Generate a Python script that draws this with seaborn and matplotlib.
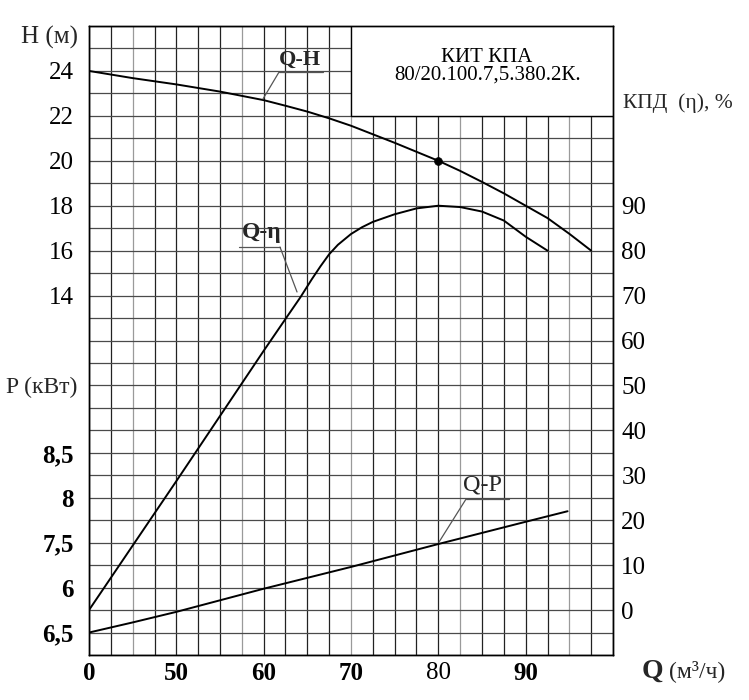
import numpy as np
import pandas as pd
import matplotlib
matplotlib.use("Agg")
import matplotlib.pyplot as plt
import seaborn as sns
from matplotlib.patches import Rectangle

# ---- data ----
q_h = [40, 45, 50, 55, 60, 62.5, 65, 67.5, 70, 72.5, 75, 77.5, 80, 82.5, 85, 87.5, 90, 92.5, 95, 97.5]
h_vals = [24, 23.68, 23.4, 23.08, 22.7, 22.45, 22.19, 21.89, 21.56, 21.18, 20.8, 20.4,
          20.0, 19.55, 19.06, 18.55, 18.0, 17.45, 16.75, 16.0]

q_eta = [40, 50, 55, 60, 62.5, 64.2, 65.5, 66.5, 67.5, 68.5, 70, 71.25, 72.5, 75, 77.5, 80, 82.5, 85, 87.5, 90, 92.5]
eta_vals = [0, 28.7, 43.2, 57.7, 64.8, 69.6, 73.6, 76.5, 79.2, 81.3, 83.7, 85.2, 86.4, 88.1, 89.4, 90, 89.7, 88.7, 86.7, 83.1, 80]

q_p = [40, 45, 50, 60, 70, 80, 90, 94.8]
p_grid = [-1, -0.55, -0.08, 0.95, 1.92, 2.94, 3.93, 4.4]

point_q = [80]
point_h = [20]

x_tick_pos = [40, 50, 60, 70, 80, 90]
x_tick_lab = ["0", "50", "60", "70", "80", "90"]
h_tick_pos = [14, 16, 18, 20, 22, 24]
h_tick_lab = ["14", "16", "18", "20", "22", "24"]
p_tick_pos = [-1, 1, 3, 5, 7]
p_tick_lab = ["6,5", "6", "7,5", "8", "8,5"]
eta_ticks = [0, 10, 20, 30, 40, 50, 60, 70, 80, 90]

sns.set_theme(style="white")
plt.rcParams["font.family"] = ["Liberation Serif", "DejaVu Serif"]

fig = plt.figure(figsize=(7.49, 7.0), dpi=100)
W, H = 749, 700
ax = fig.add_axes([89 / W, 1 - 655 / H, 524 / W, 629 / H])
ax.set_xlim(40, 100)
ax.set_ylim(-2, 26)
ax.set_facecolor("white")

# grid
for i, xv in enumerate(np.arange(40, 100.01, 2.5)):
    col = "#9a9a9a" if i % 5 == 2 else "#222222"
    ax.axvline(xv, color=col, lw=0.9, zorder=1)
for yv in np.arange(-2, 26.01, 1):
    ax.axhline(yv, color="#4a4a4a", lw=0.9, zorder=1)

# title box
ax.add_patch(Rectangle((70, 22), 30, 4, facecolor="white", edgecolor="black", lw=1, zorder=3))
fig.text(487 / W, 1 - 57.5 / H, "КИТ КПА", ha="center", va="center", fontsize=15, color="black")
fig.text(488 / W, 1 - 75 / H, "80/20.100.7,5.380.2К.", ha="center", va="center", fontsize=15, color="black")

# curves
df_h = pd.DataFrame({"Q": q_h, "H": h_vals})
sns.lineplot(data=df_h, x="Q", y="H", ax=ax, color="black", lw=1.4, zorder=4)
df_p = pd.DataFrame({"Q": q_p, "P": p_grid})
sns.lineplot(data=df_p, x="Q", y="P", ax=ax, color="black", lw=1.4, zorder=4)
sns.scatterplot(x=point_q, y=point_h, ax=ax, color="black", s=32, zorder=5, edgecolor="black")

ax2 = ax.twinx()
ax2.set_ylim(-10, 130)
df_e = pd.DataFrame({"Q": q_eta, "eta": eta_vals})
sns.lineplot(data=df_e, x="Q", y="eta", ax=ax2, color="black", lw=1.4, zorder=4)
ax2.set_ylabel("")
ax2.set_yticks(eta_ticks)
ax2.set_yticklabels([str(v) for v in eta_ticks], fontsize=18)
ax2.tick_params(axis="y", length=0, pad=6, colors="black")
ax2.grid(False)

# annotations (labels with leader lines)
lc = "#555555"
ax.plot([61.76, 66.8], [23.95, 23.95], color=lc, lw=0.9, zorder=4)
ax.plot([61.76, 59.92], [23.95, 22.75], color=lc, lw=0.9, zorder=4)
ax.text(64.2, 24.5, "Q-H", ha="center", va="center", fontsize=16, fontweight="bold", zorder=5)

ax.plot([57.18, 61.87], [16.16, 16.16], color=lc, lw=0.9, zorder=4)
ax.plot([61.87, 63.82], [16.16, 14.16], color=lc, lw=0.9, zorder=4)
ax.text(59.8, 16.8, "Q-η", ha="center", va="center", fontsize=17, fontweight="bold", zorder=5)

ax.plot([83.17, 88.09], [4.94, 4.94], color=lc, lw=0.9, zorder=4)
ax.plot([83.17, 80.08], [4.94, 3.03], color=lc, lw=0.9, zorder=4)
ax.text(85.1, 5.57, "Q-P", ha="center", va="center", fontsize=17.5, zorder=5)

# x ticks
ax.set_xticks(x_tick_pos)
ax.set_xticklabels(x_tick_lab, fontsize=18)
for t, lab in zip(ax.get_xticklabels(), x_tick_lab):
    t.set_fontweight("normal" if lab == "80" else "bold")
ax.tick_params(axis="x", length=0, pad=5, colors="black")

# left y ticks
ypos = p_tick_pos + h_tick_pos
ylab = p_tick_lab + h_tick_lab
ax.set_yticks(ypos)
ax.set_yticklabels(ylab, fontsize=18)
for t, lab in zip(ax.get_yticklabels(), ylab):
    if lab in p_tick_lab:
        t.set_fontweight("bold")
ax.tick_params(axis="y", length=0, pad=11, colors="black")
ax.set_xlabel("")
ax.set_ylabel("")

# left axis titles
fig.text(78 / W, 1 - 37 / H, "H (м)", ha="right", va="center", fontsize=18)
fig.text(77 / W, 1 - 387 / H, "P (кВт)", ha="right", va="center", fontsize=17)

for a in (ax, ax2):
    for s in a.spines.values():
        s.set_color("black")
        s.set_linewidth(1)

# right axis title and x axis title
fig.text(623 / W, 1 - 103 / H, "КПД  (η), %", ha="left", va="center", fontsize=15.5)
fig.text(642 / W, 1 - 671 / H, "Q", ha="left", va="center", fontsize=20, fontweight="bold")
fig.text(669 / W, 1 - 671 / H, "(м³/ч)", ha="left", va="center", fontsize=17)

fig.savefig("out.png", dpi=100, facecolor="white")
